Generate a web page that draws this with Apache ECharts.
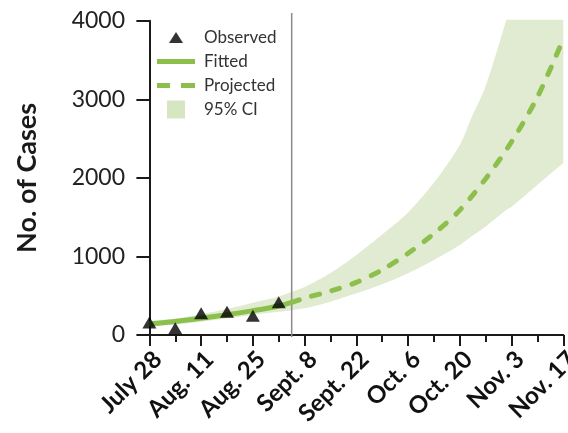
<!DOCTYPE html>
<html>
<head>
<meta charset="utf-8">
<script src="https://cdn.jsdelivr.net/npm/echarts@6/dist/echarts.min.js"></script>
<style>
html,body{margin:0;padding:0;background:#fff;}
#chart{width:568px;height:433px;}
</style>
</head>
<body>
<div id="chart"></div>
<script>
// ---- data (days since July 28) ----
const observedDays = [0, 7, 14, 21, 28, 35];
const observedCases = [160, 85, 276, 297, 244, 416];

const fittedDays = [0, 7, 14, 21, 28, 35, 38.5];
const fittedCases = [140, 172, 212, 258, 310, 370, 415];

const projectedDays = [38.5, 42, 49, 56, 63, 70, 77, 84, 91, 98, 105, 112];
const projectedCases = [415, 470, 560, 670, 830, 1040, 1290, 1590, 1990, 2460, 3030, 3770];

const ciDays  = [0, 7, 14, 21, 28, 35, 38.5, 42, 49, 56, 63, 70, 77, 84, 87, 91, 96.5, 98, 105, 112];
const ciLower = [110, 135, 170, 210, 255, 295, 315, 340, 424, 531, 646, 786, 955, 1146, 1250, 1380, 1590, 1634, 1911, 2190];
const ciUpper = [180, 210, 265, 330, 410, 490, 550, 610, 790, 1020, 1280, 1560, 1940, 2420, 2750, 3170, 4000, 4250, 5500, 7000];

const splitDay = 38.5;
const splitRange = [-25, 4100];

const xMajorTicks = [0, 14, 28, 42, 56, 70, 84, 98, 112];
const xMinorTicks = [7, 21, 35, 49, 63, 77, 91, 105];
const xTickLabels = ['July 28', 'Aug. 11', 'Aug. 25', 'Sept. 8', 'Sept. 22', 'Oct. 6', 'Oct. 20', 'Nov. 3', 'Nov. 17'];

const legendNames = ['Observed', 'Fitted', 'Projected', '95% CI'];

// ---- chart ----
const pair = (xs, ys) => xs.map((x, i) => [x, ys[i]]);
// y first so that stacking happens on the value (y) dimension
const pairYX = (xs, ys) => xs.map((x, i) => [ys[i], x]);
const GREEN = '#8cbf4c';
const BAND = '#e1ebd2';
const AXIS = '#1a1a1a';
const FONT = 'Lato';

const chart = echarts.init(document.getElementById('chart'), null, {renderer: 'canvas'});

const option = {
  animation: false,
  backgroundColor: '#fff',
  grid: {left: 142, right: 4.7, top: 20.8, bottom: 98, containLabel: false, outerBoundsMode: 'none'},
  legend: {
    orient: 'vertical',
    left: 157,
    top: 28.5,
    padding: 0,
    itemWidth: 38,
    itemHeight: 18,
    itemGap: 6,
    textStyle: {fontSize: 17, fontFamily: FONT, color: '#333', padding: [0, 0, 0, 4]},
    data: [
      {name: legendNames[0], icon: 'path://M0,0M38,18M12,14.5L19,3.5L26,14.5Z', itemStyle: {color: '#000', borderWidth: 0}},
      {name: legendNames[1], icon: 'path://M0,0M38,18M0,6.5H38V11.5H0Z', itemStyle: {color: GREEN, borderWidth: 0}},
      {name: legendNames[2], icon: 'path://M0,0M38,18M0,6.5H13V11.5H0ZM24,6.5H38V11.5H24Z', itemStyle: {color: GREEN, borderWidth: 0}},
      {name: legendNames[3], icon: 'path://M0,0M38,18M10,0H28V18H10Z', itemStyle: {color: '#d6e6c2', borderWidth: 0}}
    ]
  },
  xAxis: [
    {
      type: 'value', min: -2, max: 112, position: 'bottom',
      axisLine: {show: true, lineStyle: {color: AXIS, width: 2}},
      axisTick: {show: true, customValues: xMajorTicks, length: 11, lineStyle: {color: AXIS, width: 2}},
      axisLabel: {
        customValues: xMajorTicks,
        formatter: v => xTickLabels[xMajorTicks.indexOf(v)] || '',
        rotate: 45, align: 'right', verticalAlign: 'top', margin: 12,
        fontSize: 24, fontWeight: 'bold', fontFamily: FONT, color: '#111'
      },
      splitLine: {show: false}
    },
    {
      type: 'value', min: -2, max: 112, position: 'bottom',
      axisLine: {show: false},
      axisTick: {show: true, customValues: xMinorTicks, length: 7, lineStyle: {color: AXIS, width: 2}},
      axisLabel: {show: false},
      splitLine: {show: false}
    }
  ],
  yAxis: {
    type: 'value', min: 0, max: 4000, interval: 1000,
    axisLine: {show: true, lineStyle: {color: AXIS, width: 2}},
    axisTick: {show: true, length: 13, lineStyle: {color: AXIS, width: 2}},
    axisLabel: {margin: 17, fontSize: 23, fontFamily: FONT, color: '#222', formatter: v => String(v)},
    splitLine: {show: false},
    name: 'No. of Cases', nameLocation: 'middle', nameGap: 101,
    nameTextStyle: {fontSize: 27, fontWeight: 'bold', fontFamily: FONT, color: '#1a1a1a'}
  },
  series: [
    {
      name: 'ciLower', type: 'line', stack: 'ci', silent: true, smooth: 0.3,
      data: pairYX(ciDays, ciLower), encode: {x: 1, y: 0}, symbol: 'none',
      lineStyle: {opacity: 0}, z: 1
    },
    {
      name: legendNames[3], type: 'line', stack: 'ci', silent: true, smooth: 0.3,
      data: pairYX(ciDays, ciUpper.map((u, i) => u - ciLower[i])), encode: {x: 1, y: 0}, symbol: 'none',
      lineStyle: {opacity: 0}, areaStyle: {color: BAND, opacity: 1}, itemStyle: {color: BAND}, z: 1
    },
    {
      name: legendNames[1], type: 'line', smooth: 0.3, symbol: 'none',
      data: pair(fittedDays, fittedCases),
      lineStyle: {color: GREEN, width: 5}, itemStyle: {color: GREEN}, z: 3
    },
    {
      name: legendNames[2], type: 'line', smooth: 0.3, symbol: 'none',
      data: pair(projectedDays, projectedCases),
      lineStyle: {color: GREEN, width: 5, type: [8, 13], cap: 'round'}, itemStyle: {color: GREEN}, z: 3
    },
    {
      name: 'split', type: 'line', symbol: 'none', silent: true, clip: false,
      data: [[splitDay, splitRange[0]], [splitDay, splitRange[1]]],
      lineStyle: {color: '#8a8a8a', width: 1.5}, z: 2
    },
    {
      name: legendNames[0], type: 'scatter', symbol: 'triangle', symbolSize: [14, 12],
      data: pair(observedDays, observedCases),
      itemStyle: {color: '#000'}, z: 5
    }
  ]
};
chart.setOption(option);
</script>
</body>
</html>
